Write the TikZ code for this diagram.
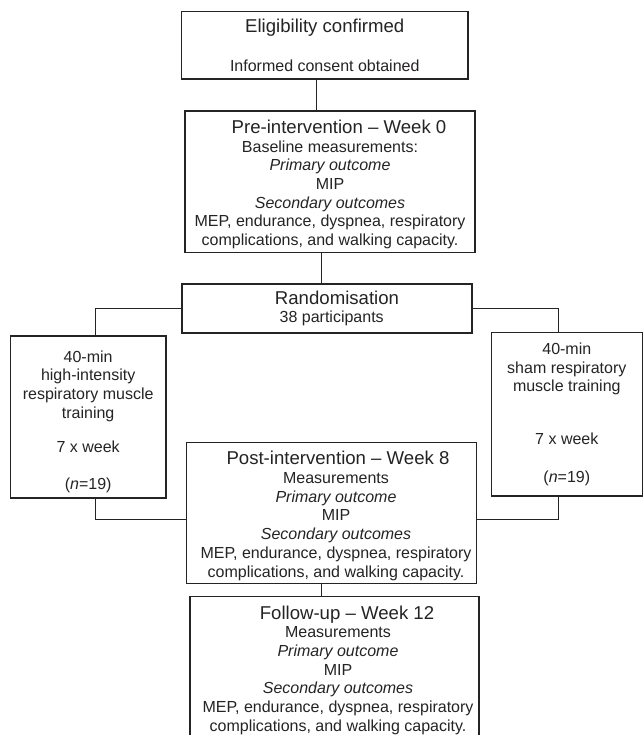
\documentclass[tikz,border=0pt]{standalone}
\usepackage{fontspec}
\setmainfont{Liberation Sans}
\definecolor{ink}{HTML}{262324}
\newcommand{\ttlf}{\fontsize{18.6}{18.7}\selectfont}
\newcommand{\up}{\rule{0pt}{19pt}}
\begin{document}
\begin{tikzpicture}[x=1pt,y=-1pt,
  box/.style={draw=ink, line width=1.4pt, align=center, inner sep=0pt, text=ink,
    font=\fontsize{16}{18.7}\selectfont, anchor=center},
  conn/.style={draw=ink, line width=0.9pt}]
\useasboundingbox (0,0) rectangle (643,735);
\fill[white] (0,0) rectangle (643,735);

\node[box, minimum width=286.5pt, minimum height=67.5pt] (elig) at (324.75,45.25)
  {{\ttlf Eligibility confirmed}\\[21pt]Informed consent obtained};

\node[box, minimum width=290pt, minimum height=141.3pt] (pre) at (330,181.65)
  {\up\hspace*{18pt}{\ttlf Pre-intervention – Week 0}\\
   Baseline measurements:\\
   \textit{Primary outcome}\\
   MIP\\
   \textit{Secondary outcomes}\\
   MEP, endurance, dyspnea, respiratory\\
   complications, and walking capacity.};

\node[box, minimum width=290pt, minimum height=49pt,
  font=\fontsize{16}{18}\selectfont] (rand) at (327,308.5)
  {\hspace*{20pt}{\ttlf Randomisation}\\
   \hspace*{9.4pt}38 participants};

\node[box, minimum width=155.7pt, minimum height=162pt] (left) at (88.15,417)
  {\rule{0pt}{21pt}40-min\\
   high-intensity\\
   respiratory muscle\\
   training\\[15.3pt]
   7 x week\\[18.3pt]
   (\textit{n}=19)};

\node[box, minimum width=151pt, minimum height=163.7pt] (right) at (566.8,414.15)
  {40-min\\
   sham respiratory\\
   muscle training\\[34.3pt]
   7 x week\\[18.6pt]
   (\textit{n}=19)};

\node[box, minimum width=290pt, minimum height=140.8pt] (post) at (331.5,513.1)
  {\up\hspace*{13pt}{\ttlf Post-intervention – Week 8}\\
   \hspace*{9pt}Measurements\\
   \hspace*{9pt}\textit{Primary outcome}\\
   \hspace*{9pt}MIP\\
   \hspace*{9pt}\textit{Secondary outcomes}\\
   \hspace*{9pt}MEP, endurance, dyspnea, respiratory\\
   \hspace*{9pt}complications, and walking capacity.};

\node[box, minimum width=289pt, minimum height=141.4pt] (follow) at (334.5,667.4)
  {\up\hspace*{25pt}{\ttlf Follow-up – Week 12}\\
   \hspace*{7pt}Measurements\\
   \hspace*{7pt}\textit{Primary outcome}\\
   \hspace*{7pt}MIP\\
   \hspace*{7pt}\textit{Secondary outcomes}\\
   \hspace*{7pt}MEP, endurance, dyspnea, respiratory\\
   \hspace*{7pt}complications, and walking capacity.};

\coordinate (xA) at (316.7,0);
\coordinate (xB) at (321.7,0);
\coordinate (xL) at (95,0);
\coordinate (xR) at (558.5,0);
\coordinate (yM) at (0,519);

\draw[conn] (elig.south -| xA) -- (pre.north -| xA);
\draw[conn] (pre.south -| xB) -- (rand.north -| xB);
\draw[conn] (rand.west) -| (left.north -| xL);
\draw[conn] (rand.east) -| (right.north -| xR);
\draw[conn] (left.south -| xL) |- (post.west |- yM);
\draw[conn] (right.south -| xR) |- (post.east |- yM);
\draw[conn] (post.south -| xB) -- (follow.north -| xB);
\end{tikzpicture}
\end{document}
